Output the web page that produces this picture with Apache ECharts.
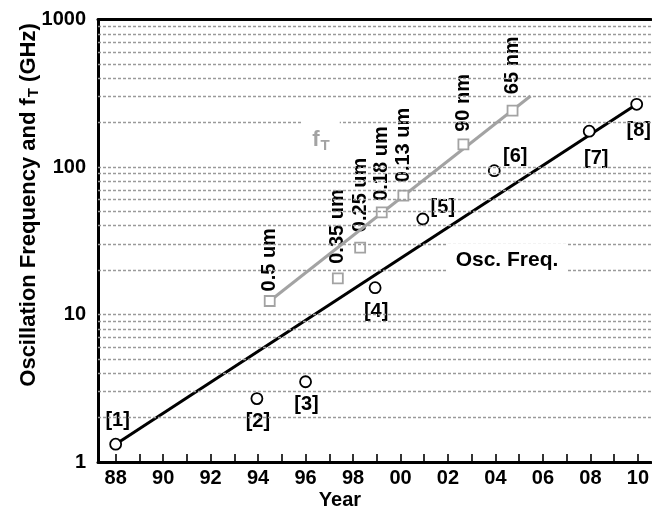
<!DOCTYPE html>
<html>
<head>
<meta charset="utf-8">
<script src="https://cdn.jsdelivr.net/npm/echarts@6/dist/echarts.min.js"></script>
<style>
  html, body { margin: 0; padding: 0; background: #fff; }
  #chart { width: 652px; height: 510px; }
</style>
</head>
<body>
<div id="chart"></div>
<script>
// Oscillation frequency measurements (year, GHz) with reference tags
const oscYears  = [88, 93.95, 96, 98.93, 100.94, 103.95, 107.95, 109.95];
const oscValues = [1.32, 2.69, 3.5, 15.2, 44.4, 94.4, 175, 266];
const oscTags   = ['[1]', '[2]', '[3]', '[4]', '[5]', '[6]', '[7]', '[8]'];

// Trend line through the oscillation-frequency data
const oscFitYears  = [88, 109.95];
const oscFitValues = [1.32, 266];

// fT per technology node
const ftYears  = [94.49, 97.36, 98.30, 99.21, 100.12, 102.65, 104.72];
const ftValues = [12.35, 17.6, 28.4, 49.3, 63.9, 142.5, 241];
const ftNodes  = ['0.5 um', '0.35 um', '0.25 um', '0.18 um', '0.13 um', '90 nm', '65 nm'];

// fT trend line
const ftFitYears  = [94.49, 105.48];
const ftFitValues = [12.35, 303];

// Axis ticks
const yearTicks  = [88, 89, 90, 91, 92, 93, 94, 95, 96, 97, 98, 99, 100, 101, 102, 103, 104, 105, 106, 107, 108, 109, 110];
const yearLabels = [88, 90, 92, 94, 96, 98, 100, 102, 104, 106, 108, 110];
const gridValues = [2, 3, 4, 5, 6, 7, 8, 9, 10, 20, 30, 40, 50, 60, 70, 80, 90, 100, 200, 300, 400, 500, 600, 700, 800, 900];

// Label placement (style only)
const oscTagOffsets = [[2, -24], [1, 23], [1, 23], [1, 24], [20, -12], [21, -14], [7, 27], [2, 26]];
const ftNodeGaps    = [3, 8, 9, 5, 7, 6, 10];

const FONT = '"Liberation Sans", Arial, Helvetica, sans-serif';
const GRAY = '#a3a3a3';

const chart = echarts.init(document.getElementById('chart'), null, { renderer: 'canvas' });

const zip = (xs, ys) => xs.map((x, i) => [x, ys[i]]);

const option = {
  animation: false,
  backgroundColor: '#fff',
  grid: { left: 98, right: 0, top: 19.5, bottom: 48, containLabel: false },
  xAxis: [{
    type: 'value',
    min: 87.256,
    max: 110.55,
    axisLine: { show: true, lineStyle: { color: '#000', width: 3 } },
    axisTick: { show: true, inside: true, length: 8, customValues: yearTicks,
                lineStyle: { color: '#000', width: 1.6 } },
    axisLabel: { show: true, customValues: yearLabels, margin: 6,
                 color: '#000', fontFamily: FONT, fontWeight: 'bold', fontSize: 20,
                 formatter: v => String(Math.round(v) % 100).padStart(2, '0') },
    splitLine: { show: false }
  }, {
    type: 'value',
    position: 'top',
    min: 87.256,
    max: 110.55,
    axisLine: { show: true, lineStyle: { color: '#000', width: 3 } },
    axisTick: { show: false },
    axisLabel: { show: false },
    splitLine: { show: false }
  }],
  yAxis: {
    type: 'log',
    logBase: 10,
    min: 1,
    max: 1000,
    axisLine: { show: true, lineStyle: { color: '#000', width: 3 } },
    axisTick: { show: false },
    axisLabel: { color: '#000', fontFamily: FONT, fontWeight: 'bold', fontSize: 20, margin: 12,
                 formatter: v => String(Math.round(v)) },
    splitLine: { show: false },
    minorTick: { show: false },
    minorSplitLine: { show: false }
  },
  series: [
    {
      // dashed reference lines at 2..9 of every decade
      type: 'line',
      data: [],
      silent: true,
      z: 1,
      markLine: {
        silent: true,
        symbol: ['none', 'none'],
        label: { show: false },
        lineStyle: { color: '#9a9a9a', type: [3, 2], width: 1.3 },
        emphasis: { disabled: true },
        data: gridValues.map(v => ({ yAxis: v }))
      }
    },
    {
      // node labels for the fT points
      type: 'scatter',
      z: 2,
      silent: true,
      symbol: 'rect',
      symbolSize: 11,
      itemStyle: { color: 'transparent', borderWidth: 0, opacity: 1 },
      data: ftYears.map((x, i) => ({
        value: [x, ftValues[i]],
        label: {
          show: true,
          formatter: ftNodes[i],
          position: 'top',
          distance: ftNodeGaps[i],
          rotate: 90,
          align: 'left',
          verticalAlign: 'middle',
          color: '#000',
          fontFamily: FONT,
          fontWeight: 'bold',
          fontSize: 20,
          backgroundColor: '#fff',
          padding: [0, 1, 0, 1]
        }
      }))
    },
    {
      name: 'Osc. Freq. fit',
      type: 'line',
      z: 3,
      silent: true,
      symbol: 'none',
      lineStyle: { color: '#000', width: 3 },
      data: zip(oscFitYears, oscFitValues)
    },
    {
      name: 'fT fit',
      type: 'line',
      z: 3,
      silent: true,
      symbol: 'none',
      lineStyle: { color: GRAY, width: 3 },
      data: zip(ftFitYears, ftFitValues)
    },
    {
      name: 'fT',
      type: 'scatter',
      z: 4,
      symbol: 'rect',
      symbolSize: 10,
      itemStyle: { color: '#fff', borderColor: GRAY, borderWidth: 1.8, opacity: 1 },
      data: zip(ftYears, ftValues)
    },
    {
      name: 'Osc. Freq.',
      type: 'scatter',
      z: 4,
      symbol: 'circle',
      symbolSize: 11,
      itemStyle: { color: '#fff', borderColor: '#000', borderWidth: 1.8, opacity: 1 },
      data: oscYears.map((x, i) => ({
        value: [x, oscValues[i]],
        label: {
          show: true,
          formatter: oscTags[i],
          position: ['50%', '50%'],
          align: 'center',
          verticalAlign: 'middle',
          offset: oscTagOffsets[i],
          color: '#000',
          fontFamily: FONT,
          fontWeight: 'bold',
          fontSize: 20
        }
      }))
    }
  ],
  graphic: [
    {
      type: 'text',
      x: 29, y: 205,
      rotation: Math.PI / 2,
      z: 10,
      style: {
        text: 'Oscillation Frequency and f{sub|T} (GHz)',
        fill: '#000',
        font: 'bold 22px ' + FONT,
        align: 'center',
        verticalAlign: 'middle',
        rich: {
          sub: { fontSize: 15, fontWeight: 'bold', fontFamily: FONT, fill: '#000', padding: [10, 0, 0, 1] }
        }
      }
    },
    {
      type: 'text',
      x: 340, y: 500,
      z: 10,
      style: {
        text: 'Year',
        fill: '#000',
        font: 'bold 20px ' + FONT,
        align: 'center',
        verticalAlign: 'middle'
      }
    },
    {
      type: 'text',
      x: 321, y: 140,
      z: 10,
      style: {
        text: 'f{sub|T}',
        fill: GRAY,
        font: 'bold 22px ' + FONT,
        align: 'center',
        verticalAlign: 'middle',
        backgroundColor: '#fff',
        padding: [6, 10, 6, 10],
        rich: {
          sub: { fontSize: 15, fontWeight: 'bold', fontFamily: FONT, fill: GRAY, padding: [12, 0, 0, 1] }
        }
      }
    },
    {
      type: 'text',
      x: 507, y: 260,
      z: 10,
      style: {
        text: 'Osc. Freq.',
        fill: '#000',
        font: 'bold 21px ' + FONT,
        align: 'center',
        verticalAlign: 'middle',
        backgroundColor: '#fff',
        padding: [6, 8, 6, 8]
      }
    }
  ]
};

chart.setOption(option);
</script>
</body>
</html>
